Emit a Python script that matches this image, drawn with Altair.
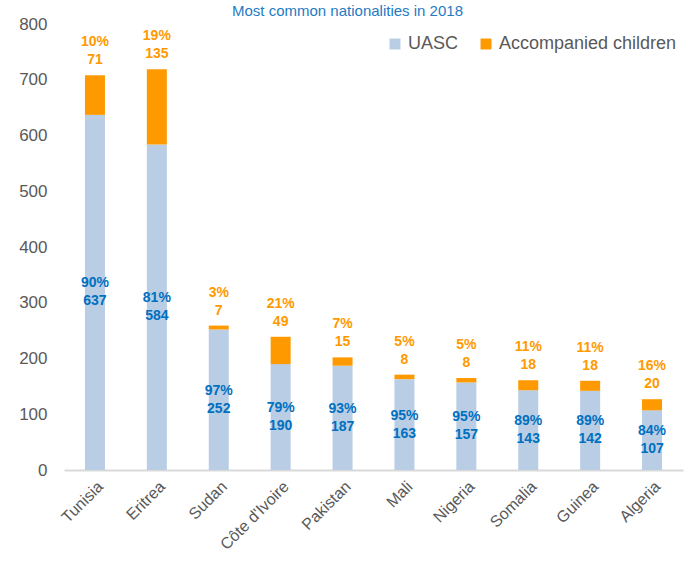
import altair as alt
import pandas as pd

countries = ["Tunisia", "Eritrea", "Sudan", "Côte d'Ivoire", "Pakistan", "Mali",
             "Nigeria", "Somalia", "Guinea", "Algeria"]
uasc = [637, 584, 252, 190, 187, 163, 157, 143, 142, 107]
accompanied = [71, 135, 7, 49, 15, 8, 8, 18, 18, 20]
uasc_pct = [90, 81, 97, 79, 93, 95, 95, 89, 89, 84]
acc_pct = [10, 19, 3, 21, 7, 5, 5, 11, 11, 16]

rows = []
for c, u, a in zip(countries, uasc, accompanied):
    rows.append({"country": c, "series": "UASC", "start": 0, "end": u})
    rows.append({"country": c, "series": "Accompanied children", "start": u, "end": u + a})
bars_df = pd.DataFrame(rows)

lab_df = pd.DataFrame({
    "country": countries,
    "uasc": uasc,
    "acc": accompanied,
    "uasc_pct": [f"{p}%" for p in uasc_pct],
    "acc_pct": [f"{p}%" for p in acc_pct],
    "mid": [u / 2 for u in uasc],
    "top": [u + a for u, a in zip(uasc, accompanied)],
})

xenc = alt.X("country:N", sort=countries, title=None,
             scale=alt.Scale(paddingInner=0.68, paddingOuter=0.34),
             axis=alt.Axis(labelAngle=-45, labelFontSize=16, labelColor="#595959",
                           labelFont="Liberation Sans", ticks=False, domainColor="#d9d9d9",
                           domainWidth=2, labelPadding=8))

bars = alt.Chart(bars_df).mark_bar(size=20).encode(
    x=xenc,
    y=alt.Y("start:Q", title=None,
            scale=alt.Scale(domain=[0, 800], nice=False),
            axis=alt.Axis(values=list(range(0, 801, 100)), grid=False, domain=False, ticks=False,
                          labelFontSize=17, labelColor="#595959", labelFont="Liberation Sans",
                          labelPadding=17)),
    y2="end:Q",
    color=alt.Color("series:N",
                    scale=alt.Scale(domain=["UASC", "Accompanied children"],
                                    range=["#B9CDE5", "#FF9900"]),
                    legend=alt.Legend(title=None, orient="none", legendX=322, legendY=11,
                                      direction="horizontal", symbolType="square",
                                      symbolSize=120, symbolStrokeWidth=0, labelLimit=300,
                                      labelFontSize=18, labelColor="#595959",
                                      labelFont="Liberation Sans", columnPadding=18)),
)

base = alt.Chart(lab_df).encode(x=alt.X("country:N", sort=countries))
tstyle = dict(font="Liberation Sans", fontWeight="bold", fontSize=14, baseline="middle",
              align="center")

u_pct = base.mark_text(color="#0070C0", dy=-9, **tstyle).encode(y="mid:Q", text="uasc_pct:N")
u_val = base.mark_text(color="#0070C0", dy=9, **tstyle).encode(y="mid:Q", text="uasc:Q")
a_pct = base.mark_text(color="#FF9900", dy=-33, **tstyle).encode(y="top:Q", text="acc_pct:N")
a_val = base.mark_text(color="#FF9900", dy=-15, **tstyle).encode(y="top:Q", text="acc:Q")

chart = alt.layer(bars, u_pct, u_val, a_pct, a_val).properties(
    width=619, height=446,
    title=alt.TitleParams("Most common nationalities  in 2018", fontSize=15,
                          font="Liberation Sans", fontWeight="normal", color="#1F7BC2",
                          anchor="middle", dx=-26, offset=4, dy=8),
    autosize=alt.AutoSizeParams(type="none"),
    padding={"left": 64, "top": 24, "right": 12, "bottom": 92},
).configure_view(stroke=None)

chart.save("out.html", embed_options={"renderer": "svg", "actions": False})
